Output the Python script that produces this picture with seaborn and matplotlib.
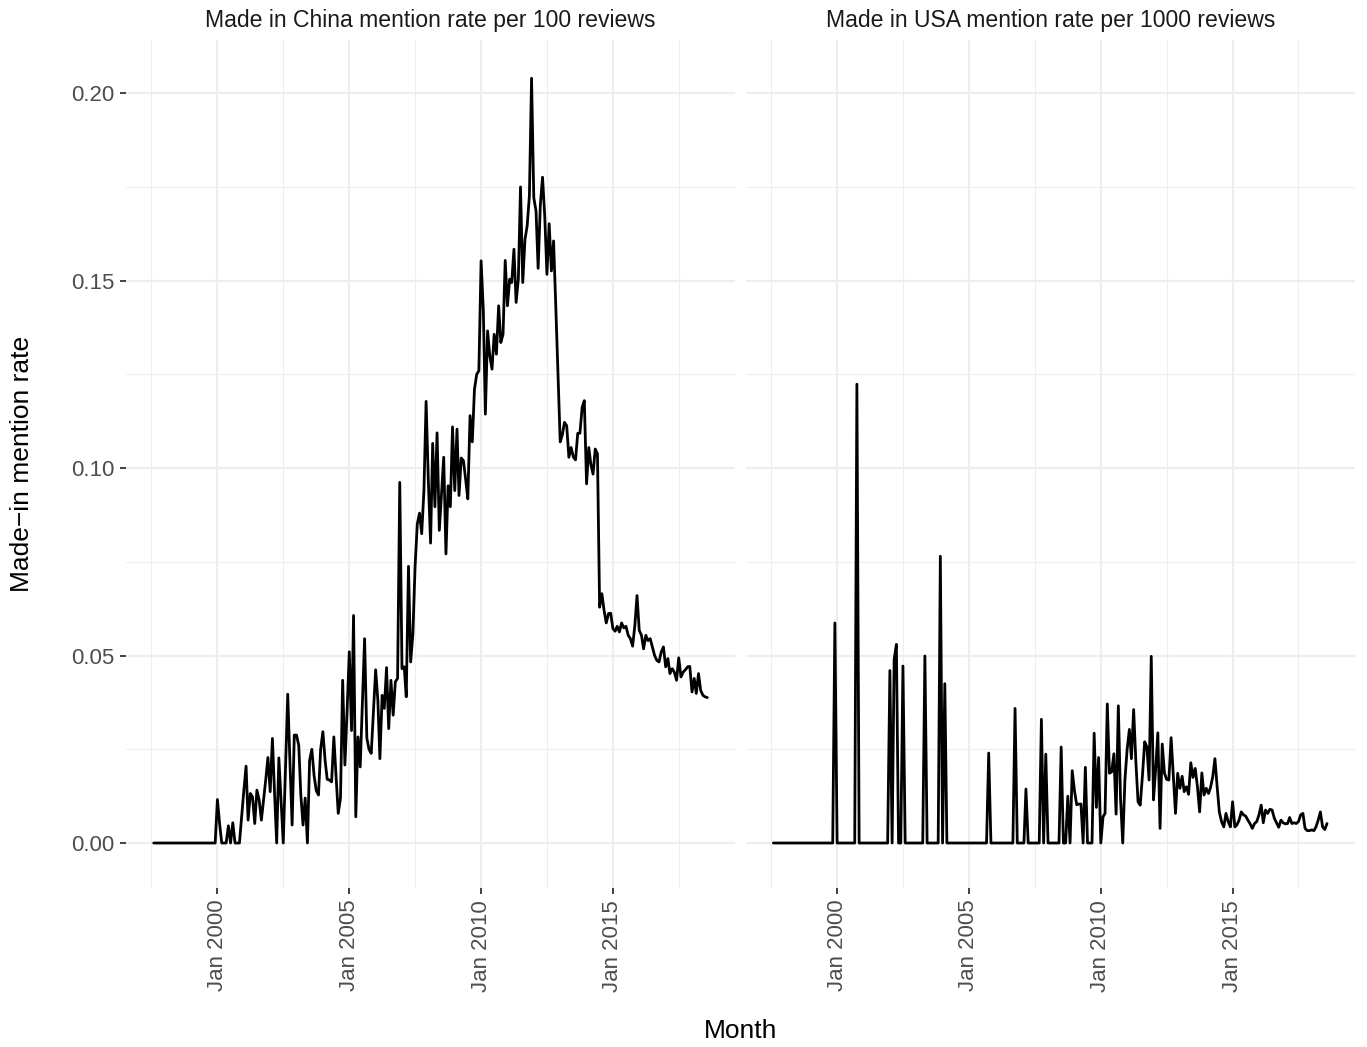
import matplotlib
matplotlib.use("Agg")
import matplotlib.pyplot as plt
import pandas as pd
import seaborn as sns

# ---------------- data (monthly, Aug 1997 .. Aug 2018) ----------------
start_month = "1997-08-01"

china_rate = [
    # 1997 (Aug-Dec)
    0, 0, 0, 0, 0,
    # 1998
    0, 0, 0, 0, 0, 0, 0, 0, 0, 0, 0, 0,
    # 1999
    0, 0, 0, 0, 0, 0, 0, 0, 0, 0, 0, 0,
    # 2000
    0.0116, 0.005, 0, 0, 0, 0.0046, 0, 0.0054, 0, 0, 0, 0.007,
    # 2001
    0.014, 0.0205, 0.0061, 0.0132, 0.0123, 0.0052, 0.0141, 0.0115, 0.0061, 0.0115, 0.017, 0.0228,
    # 2002
    0.0137, 0.0279, 0.014, 0, 0.0227, 0.011, 0, 0.02, 0.0397, 0.022, 0.0048, 0.0288,
    # 2003
    0.0288, 0.026, 0.013, 0.0048, 0.012, 0, 0.022, 0.025, 0.018, 0.014, 0.0128, 0.025,
    # 2004
    0.0297, 0.022, 0.017, 0.0168, 0.0163, 0.0283, 0.018, 0.0079, 0.012, 0.0434, 0.0208, 0.035,
    # 2005
    0.051, 0.030, 0.0607, 0.007, 0.0283, 0.0203, 0.037, 0.0545, 0.028, 0.025, 0.0239, 0.035,
    # 2006
    0.0462, 0.038, 0.0225, 0.0394, 0.0359, 0.0468, 0.0305, 0.0434, 0.0341, 0.043, 0.0439, 0.0962,
    # 2007
    0.0465, 0.047, 0.039, 0.0738, 0.0483, 0.0558, 0.0736, 0.0851, 0.088, 0.0825, 0.094, 0.1178,
    # 2008
    0.0967, 0.080, 0.1066, 0.0897, 0.1094, 0.0834, 0.093, 0.1029, 0.0771, 0.0953, 0.0897, 0.111,
    # 2009
    0.094, 0.1104, 0.0927, 0.1027, 0.102, 0.097, 0.0918, 0.114, 0.107, 0.121, 0.125, 0.126,
    # 2010
    0.1553, 0.142, 0.1144, 0.1366, 0.130, 0.1264, 0.1357, 0.1304, 0.1433, 0.1335, 0.1357, 0.1554,
    # 2011
    0.1433, 0.1504, 0.1495, 0.1584, 0.1442, 0.1504, 0.175, 0.1495, 0.161, 0.1646, 0.1726, 0.204,
    # 2012
    0.1721, 0.1686, 0.1533, 0.1703, 0.1776, 0.1672, 0.1517, 0.1652, 0.1526, 0.1606, 0.143, 0.125,
    # 2013
    0.107, 0.109, 0.1122, 0.1113, 0.1029, 0.1055, 0.103, 0.1022, 0.1093, 0.1093, 0.1162, 0.118,
    # 2014
    0.0958, 0.1055, 0.1011, 0.0984, 0.1051, 0.1038, 0.0629, 0.0665, 0.062, 0.0587, 0.0612, 0.0613,
    # 2015
    0.0572, 0.0565, 0.0578, 0.0563, 0.0587, 0.0574, 0.0578, 0.0554, 0.0545, 0.0525, 0.058, 0.066,
    # 2016
    0.0567, 0.0554, 0.0518, 0.0554, 0.054, 0.0545, 0.0523, 0.05, 0.0487, 0.0483, 0.051, 0.0523,
    # 2017
    0.047, 0.0492, 0.0452, 0.0465, 0.0456, 0.0434, 0.0494, 0.0443, 0.0456, 0.0462, 0.047, 0.0471,
    # 2018 (Jan-Aug)
    0.0403, 0.0439, 0.0399, 0.0452, 0.0407, 0.0394, 0.039, 0.0388,
]

usa_rate = [
    # 1997 (Aug-Dec)
    0, 0, 0, 0, 0,
    # 1998
    0, 0, 0, 0, 0, 0, 0, 0, 0, 0, 0, 0,
    # 1999
    0, 0, 0, 0, 0, 0, 0, 0, 0, 0, 0, 0.0587,
    # 2000
    0, 0, 0, 0, 0, 0, 0, 0, 0, 0.1224, 0, 0,
    # 2001
    0, 0, 0, 0, 0, 0, 0, 0, 0, 0, 0, 0,
    # 2002
    0.046, 0, 0.049, 0.053, 0, 0, 0.0472, 0, 0, 0, 0, 0,
    # 2003
    0, 0, 0, 0, 0.0499, 0, 0, 0, 0, 0, 0, 0.0765,
    # 2004
    0, 0.0425, 0, 0, 0, 0, 0, 0, 0, 0, 0, 0,
    # 2005
    0, 0, 0, 0, 0, 0, 0, 0, 0, 0.024, 0, 0,
    # 2006
    0, 0, 0, 0, 0, 0, 0, 0, 0, 0.0359, 0, 0,
    # 2007
    0, 0, 0.0144, 0, 0, 0, 0, 0, 0, 0.033, 0, 0.0237,
    # 2008
    0, 0, 0, 0, 0, 0, 0.0256, 0, 0, 0.0125, 0, 0.0193,
    # 2009
    0.014, 0.0102, 0.0104, 0.0104, 0, 0.0202, 0, 0, 0, 0.0293, 0.0095, 0.0228,
    # 2010
    0, 0.007, 0.0079, 0.0371, 0.0186, 0.019, 0.0238, 0.0077, 0.0366, 0.012, 0, 0.0168,
    # 2011
    0.025, 0.0303, 0.0225, 0.0356, 0.022, 0.011, 0.0101, 0.018, 0.027, 0.0257, 0.0168, 0.0498,
    # 2012
    0.0115, 0.02, 0.0294, 0.0039, 0.0264, 0.0186, 0.017, 0.0168, 0.0281, 0.018, 0.0079, 0.0186,
    # 2013
    0.0146, 0.0178, 0.0137, 0.015, 0.013, 0.0214, 0.0175, 0.0199, 0.015, 0.0083, 0.0187, 0.0128,
    # 2014
    0.0146, 0.0132, 0.0148, 0.0177, 0.0225, 0.015, 0.0083, 0.0057, 0.0043, 0.0079, 0.0057, 0.0043,
    # 2015
    0.011, 0.0043, 0.0048, 0.0061, 0.0083, 0.0075, 0.0072, 0.0061, 0.0051, 0.0039, 0.0052, 0.0057,
    # 2016
    0.0075, 0.0101, 0.0054, 0.0088, 0.0079, 0.009, 0.0088, 0.0066, 0.0054, 0.0042, 0.0061, 0.0054,
    # 2017
    0.0051, 0.0052, 0.0068, 0.0052, 0.0054, 0.0052, 0.0057, 0.0075, 0.0079, 0.0039, 0.0033, 0.0033,
    # 2018 (Jan-Aug)
    0.0035, 0.0033, 0.0043, 0.0061, 0.0083, 0.0043, 0.0036, 0.0052,
]

panel_titles = ["Made in China mention rate per 100 reviews",
                "Made in USA mention rate per 1000 reviews"]
x_major_dates = ["2000-01-01", "2005-01-01", "2010-01-01", "2015-01-01"]
x_major_labels = ["Jan 2000", "Jan 2005", "Jan 2010", "Jan 2015"]
x_minor_dates = ["1997-07-01", "2002-07-01", "2007-07-01", "2012-07-01", "2017-07-01"]
y_major = [0.00, 0.05, 0.10, 0.15, 0.20]
y_major_labels = ["0.00", "0.05", "0.10", "0.15", "0.20"]
y_minor = [0.025, 0.075, 0.125, 0.175]
x_label = "Month"
y_label = "Made\u2212in mention rate"

# ---------------- build table ----------------
months = pd.date_range(start_month, periods=len(china_rate), freq="MS")
df = pd.DataFrame({
    "Month": list(months) * 2,
    "rate": china_rate + usa_rate,
    "panel": [panel_titles[0]] * len(china_rate) + [panel_titles[1]] * len(usa_rate),
})

# ---------------- styling ----------------
sns.set_theme(style="white")
plt.rcParams["font.family"] = ["Liberation Sans", "DejaVu Sans"]

W, H = 1367, 1047
fig = plt.figure(figsize=(W / 100, H / 100), dpi=100)
fig.patch.set_facecolor("white")

panel_top, panel_bot = 40, 888
ax_h = (panel_bot - panel_top) / H
ax_y0 = 1 - panel_bot / H
ax1 = fig.add_axes([126 / W, ax_y0, 609 / W, ax_h])
ax2 = fig.add_axes([745.7 / W, ax_y0, 609 / W, ax_h], sharey=ax1)

span = months[-1] - months[0]
xlo, xhi = months[0] - span * 0.05, months[-1] + span * 0.05

grid_col = "#EEEEEE"
for ax, title in zip([ax1, ax2], panel_titles):
    sub = df[df["panel"] == title]
    sns.lineplot(data=sub, x="Month", y="rate", ax=ax, color="black",
                 linewidth=2.0, estimator=None)
    ax.set_facecolor("white")
    for s in ax.spines.values():
        s.set_visible(False)
    ax.set_xlim(xlo, xhi)
    ax.set_ylim(-0.012, 0.2142)
    ax.set_xticks(pd.to_datetime(x_major_dates))
    ax.set_xticklabels(x_major_labels, rotation=90, fontsize=16, color="#4D4D4D",
                       va="top", ha="center")
    ax.set_xticks(pd.to_datetime(x_minor_dates), minor=True)
    ax.set_yticks(y_major)
    ax.set_yticks(y_minor, minor=True)
    ax.grid(True, which="major", color=grid_col, linewidth=1.6)
    ax.grid(True, which="minor", color=grid_col, linewidth=0.8)
    ax.set_axisbelow(True)
    ax.tick_params(axis="x", which="major", length=4.5, width=1.3, color="#333333",
                   pad=4, bottom=True)
    ax.tick_params(which="minor", length=0)
    ax.set_xlabel("")
    ax.set_ylabel("")

ax1.set_yticklabels(y_major_labels, fontsize=16, color="#4D4D4D")
ax1.tick_params(axis="y", which="major", length=4.5, width=1.3, color="#333333",
                pad=4, left=True)
ax2.tick_params(axis="y", which="both", length=0, labelleft=False)

# strip titles
for ax, title in zip([ax1, ax2], panel_titles):
    pos = ax.get_position()
    fig.text(pos.x0 + pos.width / 2, 1 - 20 / H, title, ha="center", va="center",
             fontsize=16.6, color="#1A1A1A")

fig.text((126 + 1354.7) / 2 / W, 1 - 1031 / H, x_label, ha="center", va="center",
         fontsize=19, color="black")
fig.text(22 / W, 1 - 464 / H, y_label, ha="center", va="center", rotation=90,
         fontsize=19, color="black")

fig.savefig("out.png", dpi=100, facecolor="white")
